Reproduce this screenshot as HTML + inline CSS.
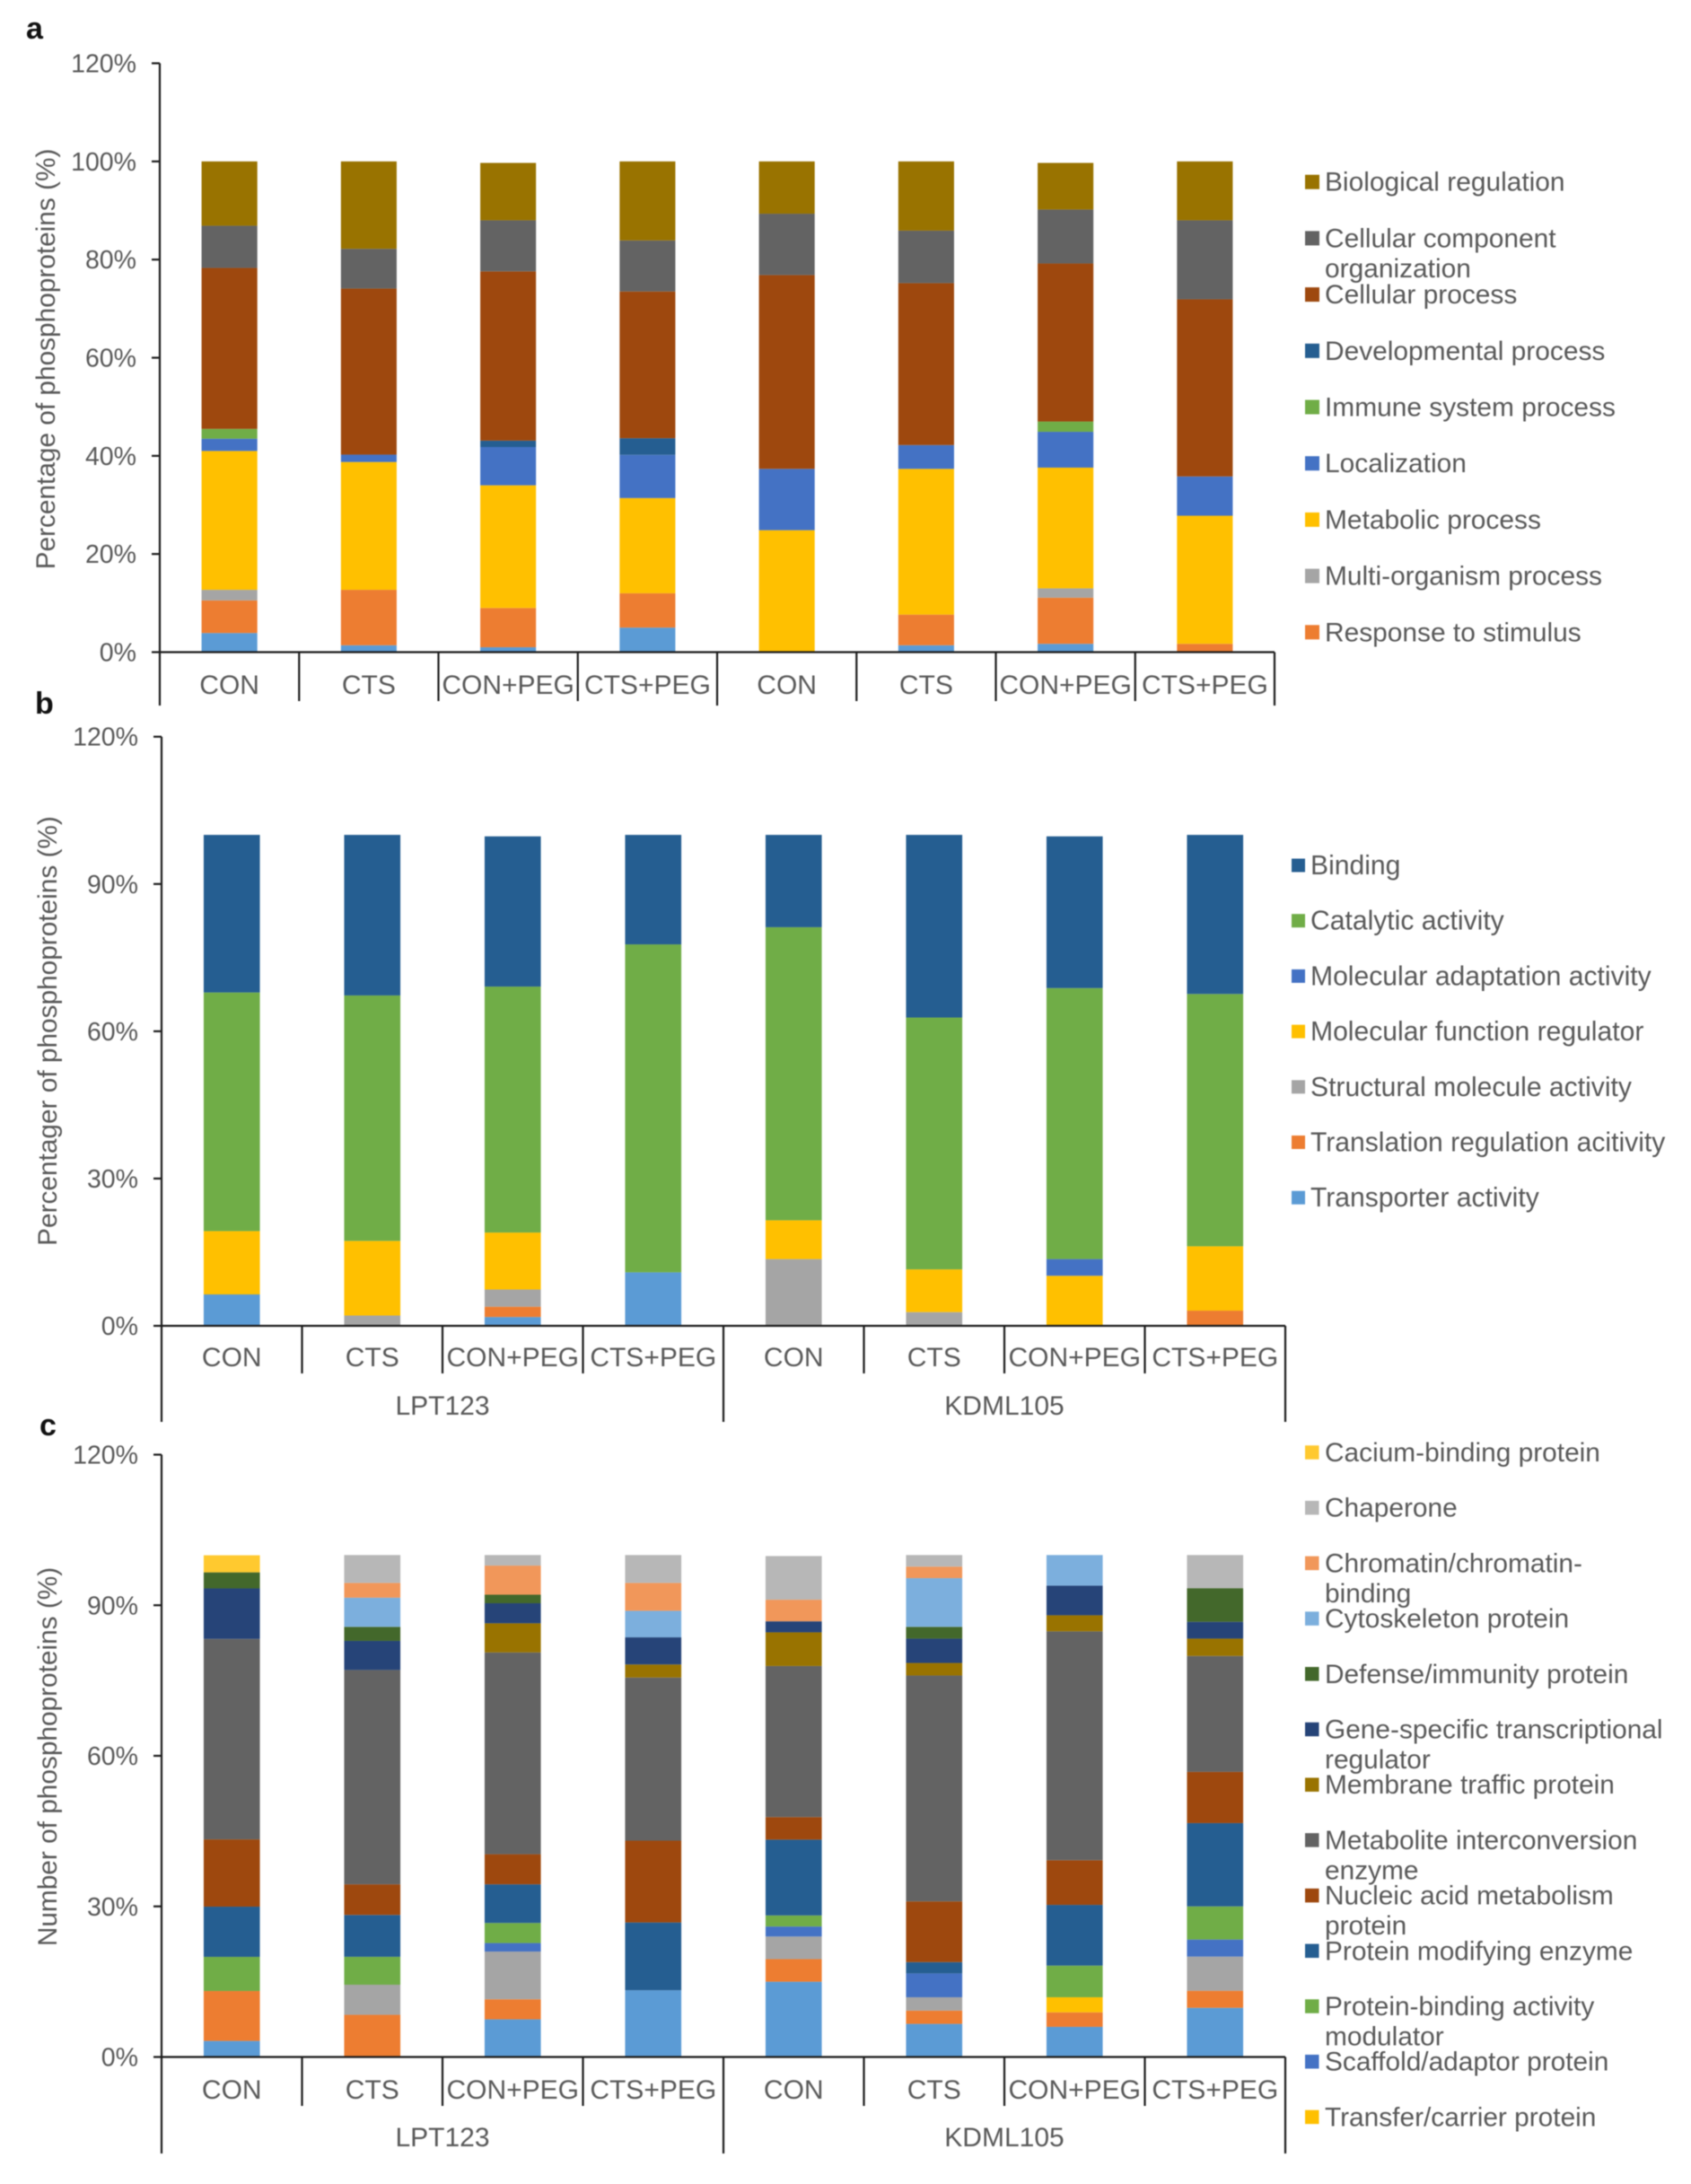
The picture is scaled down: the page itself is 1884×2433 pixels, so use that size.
<!DOCTYPE html>
<html>
<head>
<meta charset="utf-8">
<title>Phosphoprotein classification stacked bars</title>
<style>
html,body{margin:0;padding:0;background:#fff;}
#figure{display:block;width:1884px;height:2433px;background:#fff;font-family:"Liberation Sans",Arial,sans-serif;filter:blur(0.55px);}
text{font-family:"Liberation Sans",Arial,sans-serif;fill:#595959;}
</style>
</head>
<body>
<svg id="figure" xmlns="http://www.w3.org/2000/svg" width="1884" height="2433" viewBox="0 0 1884 2433"></svg>
<script>
const categories = ['CON','CTS','CON+PEG','CTS+PEG','CON','CTS','CON+PEG','CTS+PEG'];
const groups = ['LPT123','KDML105'];
const ticksA = [0,20,40,60,80,100,120];
const ticksB = [0,30,60,90,120];
const ticksC = [0,30,60,90,120];

/* Series listed bottom-to-top of the stack. */
const seriesA = ['Transporter activity','Response to stimulus','Multi-organism process','Metabolic process','Localization','Immune system process','Developmental process','Cellular process','Cellular component|organization','Biological regulation'];
const valuesA = [
  [3.9,6.65,2.15,28.3,2.5,2,0,32.8,8.6,13.1],
  [1.4,11.3,0,26.05,1.5,0,0,33.85,8.1,17.8],
  [1,8,0,25,7.8,0,1.3,34.5,10.4,11.7],
  [5,7,0,19.4,8.8,0,3.4,29.9,10.4,16.1],
  [0,0,0,24.85,12.5,0,0,39.5,12.5,10.65],
  [1.4,6.25,0,29.7,4.85,0,0,33,10.7,14.1],
  [1.7,9.4,1.9,24.6,7.3,2.1,0,32.2,11,9.5],
  [0,1.7,0,26.1,8,0,0,36.1,16.1,12]
];

const seriesB = ['Transporter activity','Translation regulation acitivity','Structural molecule activity','Molecular function regulator','Molecular adaptation activity','Catalytic activity','Binding'];
const valuesB = [
  [6.4,0,0,12.9,0,48.6,32.1],
  [0,0,2.1,15.2,0,50,32.7],
  [1.8,2.1,3.5,11.6,0,50.1,30.6],
  [10.9,0,0,0,0,66.8,22.3],
  [0,0,13.6,7.9,0,59.7,18.8],
  [0,0,2.8,8.7,0,51.3,37.2],
  [0,0,0,10.2,3.4,55.2,30.9],
  [0,3.1,0,13.1,0,51.4,32.4]
];

const seriesC = ['Unlisted class 1','Unlisted class 2','Unlisted class 3','Transfer/carrier protein','Scaffold/adaptor protein','Protein-binding activity|modulator','Protein modifying enzyme','Nucleic acid metabolism|protein','Metabolite interconversion|enzyme','Membrane traffic protein','Gene-specific transcriptional|regulator','Defense/immunity protein','Cytoskeleton protein','Chromatin/chromatin-|binding','Chaperone','Cacium-binding protein'];
const valuesC = [
  [3.2,9.95,0,0,0,6.8,10,13.4,39.95,0,10.05,3.2,0,0,0,3.4],
  [0,8.4,6,0,0,5.56,8.34,6.1,42.7,0,5.8,2.8,5.8,2.95,5.55,0],
  [7.5,4,9.5,0,1.7,4,7.7,6,40.2,5.8,4,1.7,0,5.8,2.1,0],
  [13.3,0,0,0,0,0,13.5,16.3,32.5,2.6,5.4,0,5.3,5.55,5.55,0],
  [15,4.5,4.5,0,2,2.2,15.1,4.5,30.1,6.7,2.2,0,0,4.3,8.7,0],
  [6.6,2.65,2.65,0,4.75,0,2.25,12.1,45,2.5,4.85,2.35,9.7,2.3,2.3,0],
  [6,2.9,0,3,0,6.3,12.1,8.9,45.6,3.2,5.9,0,6.1,0,0,0],
  [9.8,3.4,6.8,0,3.4,6.6,16.6,10.2,23.1,3.45,3.35,6.7,0,0,6.6,0]
];

const colorsA = ['#5B9BD5','#ED7D31','#A5A5A5','#FFC000','#4472C4','#70AD47','#255E91','#9E480E','#636363','#997300'];
const colorsB = ['#5B9BD5','#ED7D31','#A5A5A5','#FFC000','#4472C4','#70AD47','#255E91'];
const colorsC = ['#5B9BD5','#ED7D31','#A5A5A5','#FFC000','#4472C4','#70AD47','#255E91','#9E480E','#636363','#997300','#264478','#43682B','#7CAFDD','#F1975A','#B7B7B7','#FFC92F'];

const SVG_NS = 'http://www.w3.org/2000/svg';
const root = document.getElementById('figure');

function slug(s){ return s.replace(/\|/g,' ').toLowerCase().replace(/[^a-z0-9]+/g,'-').replace(/^-|-$/g,''); }

function make(tag, props, text){
  const el = document.createElementNS(SVG_NS, tag);
  for (const k in props) el.setAttribute(k, props[k]);
  if (text !== undefined) el.textContent = text;
  root.appendChild(el);
  return el;
}

function axisLine(x1,y1,x2,y2,name){
  const el = make('line',{x1:x1,y1:y1,x2:x2,y2:y2,stroke:'#1c1c1c','stroke-width':2.2});
  
  
  return el;
}

function drawPanel(p){
  const yScale = v => p.y0 - v * (p.y0 - p.y120) / 120;
  const band = (p.xEnd - p.x0) / p.categories.length;
  const xScale = i => p.x0 + band * (i + 0.5);
  const barW = band * 0.4;

  /* bars */
  p.values.forEach((row, i) => {
    let cum = 0;
    row.forEach((v, s) => {
      if (v > 0) {
        const top = yScale(cum + v);
        const bot = yScale(cum);
        const r = make('rect',{x:xScale(i)-barW/2,y:top,width:barW,height:bot-top,fill:p.colors[s]});
        
        
      }
      cum += v;
    });
  });

  /* y axis */
  axisLine(p.x0, p.y120, p.x0, p.axisBottom, p.id + '-y-axis');
  p.ticks.forEach(t => {
    axisLine(p.x0-9, yScale(t), p.x0, yScale(t), p.id + '-y-tick-' + t);
    const lab = make('text',{x:p.x0-26,y:yScale(t)+10,'text-anchor':'end','font-size':28.5}, t + '%');
    
    
  });

  /* x axis */
  axisLine(p.x0, p.y0, p.xEnd, p.y0, p.id + '-x-axis');
  for (let i = 1; i <= p.categories.length; i++) {
    const isOuter = i % 4 === 0;
    const x = p.x0 + band * i;
    axisLine(x, p.y0, x, isOuter ? p.axisBottom : p.tickBottom, p.id + '-x-divider-' + i);
  }
  p.categories.forEach((c, i) => {
    const lab = make('text',{x:xScale(i),y:p.catY,'text-anchor':'middle','font-size':30}, c);
    
    
  });
  if (p.groups) {
    p.groups.forEach((g, i) => {
      const lab = make('text',{x:p.x0 + band*(4*i+2),y:p.groupY,'text-anchor':'middle','font-size':30}, g);
      
      
    });
  }

  /* axis title */
  const title = make('text',{x:0,y:0,'text-anchor':'middle','font-size':29.8,transform:'translate(' + p.titleX + ' ' + p.titleY + ') rotate(-90)'}, p.title);
  
  

  /* panel letter */
  const letter = make('text',{x:p.letterX,y:p.letterY,'font-size':34,'font-weight':'bold',style:'fill:#111'}, p.id.slice(-1));
  
  

  /* legend: top entry is the last series */
  for (let k = 0; k < p.legendCount; k++) {
    const s = p.series.length - 1 - k;
    const cy = p.legendY + k * p.legendStep;
    const sw = make('rect',{x:p.legendX,y:cy-p.swatch/2,width:p.swatch,height:p.swatch,fill:p.colors[s]});
    
    
    p.series[s].split('|').forEach((ln, j) => {
      const t = make('text',{x:p.legendTextX,y:cy+10+j*33.5,'font-size':p.legendFont}, ln);
      
      
    });
  }
}

drawPanel({id:'panel-a',categories:categories,groups:null,series:seriesA,values:valuesA,colors:colorsA,ticks:ticksA,
  x0:178,xEnd:1420,y0:726.5,y120:70.5,tickBottom:781,axisBottom:786,catY:773,
  title:'Percentage of phosphoproteins (%)',titleX:61,titleY:400,letterX:29,letterY:43,
  legendCount:9,legendX:1454,legendY:202.7,legendStep:62.7,swatch:16,legendTextX:1476,legendFont:29.9});

drawPanel({id:'panel-b',categories:categories,groups:groups,series:seriesB,values:valuesB,colors:colorsB,ticks:ticksB,
  x0:180,xEnd:1432,y0:1477,y120:820.7,tickBottom:1530,axisBottom:1584,catY:1522,groupY:1576,
  title:'Percentager of phosphoproteins (%)',titleX:63,titleY:1148.5,letterX:39,letterY:795,
  legendCount:7,legendX:1439,legendY:964,legendStep:61.7,swatch:15,legendTextX:1460,legendFont:30.1});

drawPanel({id:'panel-c',categories:categories,groups:groups,series:seriesC,values:valuesC,colors:colorsC,ticks:ticksC,
  x0:180,xEnd:1432,y0:2291.5,y120:1620.5,tickBottom:2346,axisBottom:2399,catY:2338,groupY:2391,
  title:'Number of phosphoproteins (%)',titleX:63,titleY:1957,letterX:44,letterY:1599,
  legendCount:13,legendX:1454,legendY:1618,legendStep:61.7,swatch:15.5,legendTextX:1476,legendFont:29.85});
</script>
</body>
</html>
